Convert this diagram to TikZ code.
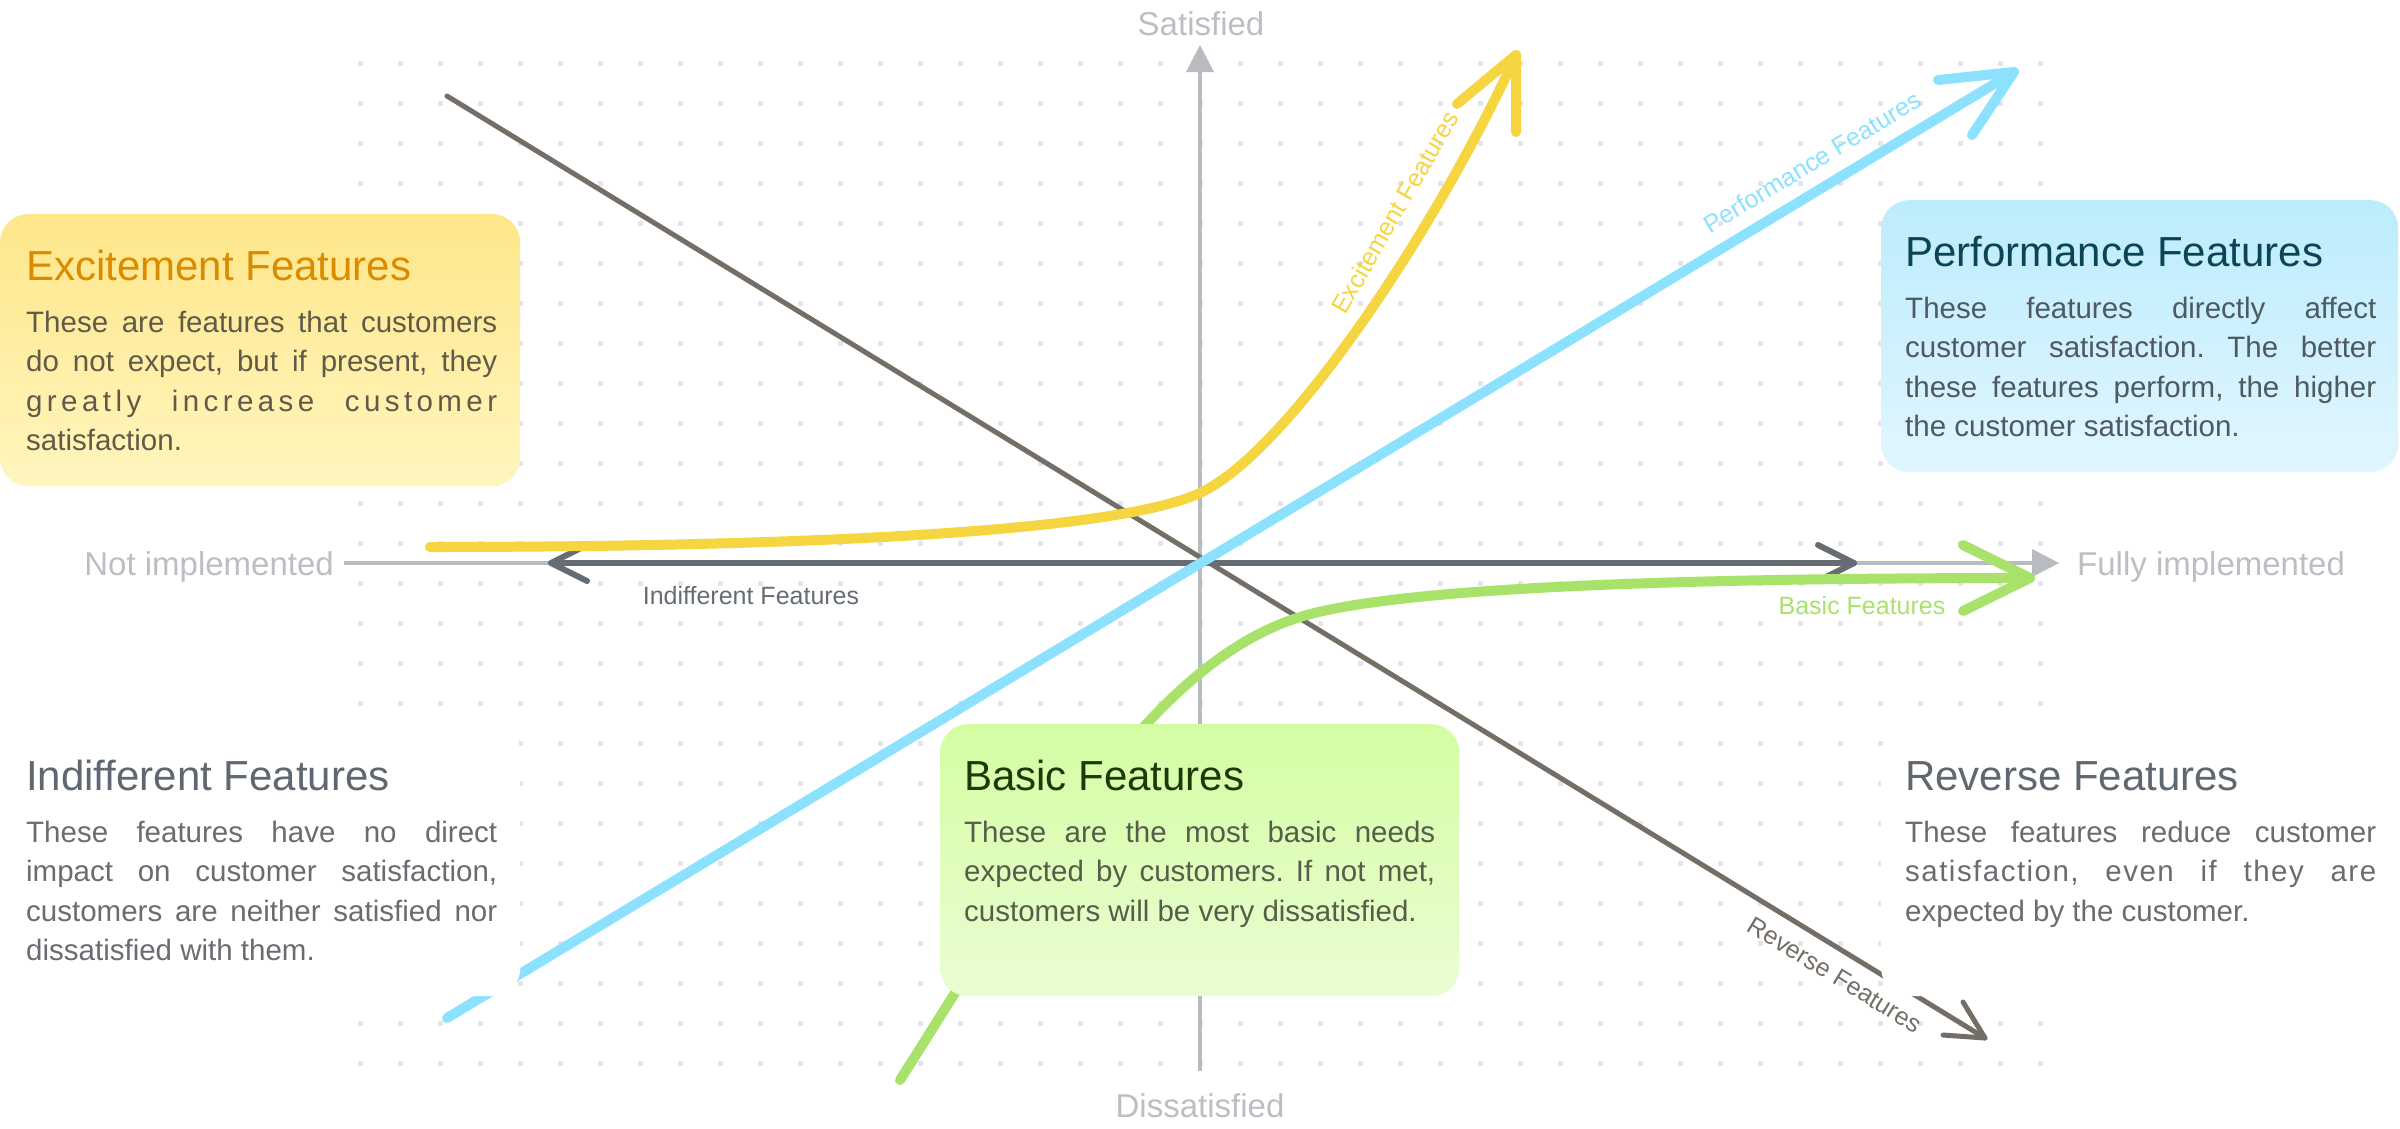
\documentclass[tikz,border=0pt]{standalone}
\usepackage{fontspec}
\setmainfont{Liberation Sans}
\definecolor{dotc}{HTML}{E4E4EA}
\definecolor{axisc}{HTML}{B8BCC1}
\definecolor{axlabc}{HTML}{BBBFC3}
\definecolor{revc}{HTML}{746E67}
\definecolor{indc}{HTML}{656C74}
\definecolor{yelc}{HTML}{F5D540}
\definecolor{bluc}{HTML}{8BE1FE}
\definecolor{grnc}{HTML}{A9E26B}
\definecolor{excT}{HTML}{FEE68A}
\definecolor{excB}{HTML}{FFF6BE}
\definecolor{excTitle}{HTML}{DA8B00}
\definecolor{excBody}{HTML}{5F5B48}
\definecolor{perT}{HTML}{BCECFC}
\definecolor{perB}{HTML}{E1F6FE}
\definecolor{perTitle}{HTML}{0A4557}
\definecolor{perBody}{HTML}{4E5A60}
\definecolor{basT}{HTML}{D4FDA3}
\definecolor{basB}{HTML}{EAFDD3}
\definecolor{basTitle}{HTML}{1B3A08}
\definecolor{basBody}{HTML}{545E4A}
\definecolor{neuTitle}{HTML}{5F6770}
\definecolor{neuBody}{HTML}{696C70}
\newcommand\kjust[1]{\hbox to 471pt{#1}}
\frenchspacing
\begin{document}
\begin{tikzpicture}[x=1pt,y=-1pt,line cap=round,line join=round,
  axisln/.style={draw=axisc,line width=4,line cap=butt},
  axlab/.style={inner sep=0,text=axlabc,font=\fontsize{33}{33}\selectfont},
  lbl/.style={inner sep=0,font=\fontsize{25}{25}\selectfont},
  ttl/.style={anchor=base west,inner sep=0,font=\fontsize{42}{42}\selectfont},
  bdy/.style={anchor=base west,inner sep=0,font=\fontsize{29.5}{39.5}\selectfont},
  cardbox/.style={rectangle,anchor=north west,rounded corners=28,minimum width=520,minimum height=272,inner sep=0,draw=none},
  thick line/.style={line width=10},
]
\useasboundingbox (0,0) rectangle (2400,1128);
\fill[white] (0,0) rectangle (2400,1128);
% dot grid
\foreach \i in {0,...,42}{
  \foreach \j in {0,...,25}{
    \fill[dotc] (357.5+40*\i,60.5+40*\j) rectangle ++(5,5);
  }
}
% axes
\coordinate (hstart) at (344,563);
\coordinate (hend) at (2034,563);
\coordinate (vstart) at (1200,1071);
\coordinate (vend) at (1200,70);
\draw[axisln] (hstart) -- (hend);
\fill[axisc] (2059,563) -- (2032,549) -- (2032,577) -- cycle;
\draw[axisln] (vstart) -- (vend);
\fill[axisc] (1200,45) -- (1186,72) -- (1214,72) -- cycle;
\node[axlab,anchor=base east] (notimpl) at (334,575) {Not implemented};
\node[axlab,anchor=base west] (fullimpl) at (2077,575) {Fully implemented};
\node[axlab,anchor=base] (sat) at (1201,35) {Satisfied};
\node[axlab,anchor=base] (dissat) at (1200,1117) {Dissatisfied};
% reverse line
\coordinate (rs) at (447,96);
\coordinate (rt) at (1985,1038);
\draw[revc,line width=5] (rs) -- (rt);
\draw[revc,line width=5] (1963,1002) -- (rt) -- (1943,1035);
% indifferent line
\coordinate (il) at (551,563);
\coordinate (ir) at (1854,563);
\draw[indc,line width=6] (il) -- (ir);
\draw[indc,line width=6] (587,545) -- (il) -- (587,581);
\draw[indc,line width=6] (1818,545) -- (ir) -- (1818,581);
% excitement curve
\coordinate (ys) at (430,547);
\coordinate (ym) at (1200,493);
\coordinate (yt) at (1516,55);
\draw[yelc,thick line] (ys) .. controls (760,547) and (1110,535) .. (ym)
   .. controls (1290,451) and (1440,222) .. (yt);
\draw[yelc,thick line] (1457,104) -- (yt) -- (1516,132);
% performance line
\coordinate (bs) at (447,1018);
\coordinate (bt) at (2014,72);
\draw[bluc,thick line] (bs) -- (bt);
\draw[bluc,thick line] (1938,80) -- (bt) -- (1972,135);
% basic curve
\coordinate (gs) at (900,1080);
\coordinate (gm) at (1300,617);
\coordinate (gt) at (2030,578);
\draw[grnc,thick line] (gs) .. controls (1040,860) and (1150,664) .. (gm)
   .. controls (1400,586) and (1700,578) .. (gt);
\draw[grnc,thick line] (1963,545) -- (gt) -- (1963,611);
% line labels
\node[lbl,text=bluc,rotate=31.2] (perlbl) at (1812,162) {Performance Features};
\node[lbl,text=yelc,rotate=60] (exclbl) at (1395,212) {Excitement Features};
\node[lbl,text=indc] (indlbl) at (751,596) {Indifferent Features};
\node[lbl,text=grnc] (baslbl) at (1862,606) {Basic Features};
\node[lbl,text=revc,rotate=-31.5] (revlbl) at (1835,975) {Reverse Features};
% boxes
\node[cardbox,top color=excT,bottom color=excB] (excbox) at (0,214) {};
\node[cardbox,top color=perT,bottom color=perB,minimum width=517] (perbox) at (1881,200) {};
\node[cardbox,fill=white] (indbox) at (0,724) {};
\node[cardbox,top color=basT,bottom color=basB,minimum width=519] (basbox) at (940,724) {};
\node[cardbox,fill=white,minimum width=519] (revbox) at (1881,724) {};
% box texts
\node[ttl,text=excTitle] (exct) at (26,280) {Excitement Features};
\node[bdy,text=excBody] (excb) at (26,332) {\vtop{%
  \kjust{These are features that customers}%
  \kjust{do not expect, but if present, they}%
  \kjust{\addfontfeature{LetterSpace=15}greatly increase customer}%
  \hbox{satisfaction.}}};
\node[ttl,text=perTitle] (pert) at (1905,266) {Performance Features};
\node[bdy,text=perBody] (perb) at (1905,318) {\vtop{%
  \kjust{These features directly affect}%
  \kjust{customer satisfaction. The better}%
  \kjust{these features perform, the higher}%
  \hbox{the customer satisfaction.}}};
\node[ttl,text=neuTitle] (indt) at (26,790) {Indifferent Features};
\node[bdy,text=neuBody] (indb) at (26,842) {\vtop{%
  \kjust{These features have no direct}%
  \kjust{impact on customer satisfaction,}%
  \kjust{customers are neither satisfied nor}%
  \hbox{dissatisfied with them.}}};
\node[ttl,text=basTitle] (bast) at (964,790) {Basic Features};
\node[bdy,text=basBody] (basb) at (964,842) {\vtop{%
  \kjust{These are the most basic needs}%
  \kjust{expected by customers. If not met,}%
  \hbox{customers will be very dissatisfied.}}};
\node[ttl,text=neuTitle] (revt) at (1905,790) {Reverse Features};
\node[bdy,text=neuBody] (revb) at (1905,842) {\vtop{%
  \kjust{These features reduce customer}%
  \kjust{\addfontfeature{LetterSpace=5}satisfaction, even if they are}%
  \hbox{expected by the customer.}}};
\end{tikzpicture}
\end{document}
